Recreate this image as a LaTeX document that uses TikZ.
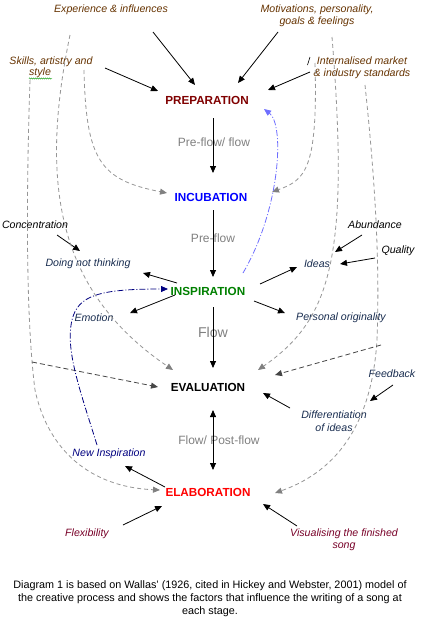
\documentclass[tikz,border=0pt]{standalone}
\usepackage{fontspec}
\setmainfont{Liberation Sans}
\usetikzlibrary{arrows.meta,decorations.pathmorphing}
\definecolor{maroonc}{RGB}{128,0,0}
\definecolor{brownc}{RGB}{102,51,0}
\definecolor{tealc}{RGB}{25,45,80}
\definecolor{navyc}{RGB}{0,0,128}
\definecolor{plumc}{RGB}{120,0,40}
\definecolor{greenc}{RGB}{0,128,0}
\definecolor{greyt}{RGB}{128,128,128}
\definecolor{dashg}{RGB}{150,150,150}
\definecolor{dashd}{RGB}{70,70,70}
\definecolor{lblue}{RGB}{110,110,255}
\tikzset{
  stage/.style={font=\bfseries\fontsize{11.7}{14}\selectfont, inner sep=1pt},
  lbl/.style={font=\itshape\fontsize{10.6}{12.5}\selectfont, inner sep=1pt, align=center},
  flowtxt/.style={font=\fontsize{12}{14}\selectfont, text=greyt, inner sep=1pt},
  arr/.style={line width=0.8pt, -{Triangle[length=7pt,width=6pt]}},
  darr/.style={line width=0.8pt, {Triangle[length=7pt,width=6pt]}-{Triangle[length=7pt,width=6pt]}},
  garr/.style={dashg, line width=0.8pt, dash pattern=on 4pt off 3pt, -{Triangle[length=7pt,width=6pt,fill=greyt,color=greyt]}},
  dkarr/.style={dashd, line width=0.8pt, dash pattern=on 5pt off 3pt, -{Triangle[length=7pt,width=6pt]}},
  navyarr/.style={navyc, line width=0.8pt, dash pattern=on 6pt off 2pt on 1pt off 2pt, -{Triangle[length=7pt,width=6pt]}},
  bluearr/.style={lblue, line width=0.8pt, dash pattern=on 6pt off 2pt on 1pt off 2pt, -{Triangle[length=7pt,width=6pt]}},
}
\begin{document}
\begin{tikzpicture}[x=1pt,y=-1pt]
\path[use as bounding box, fill=white] (0,0) rectangle (421,624);

% stages
\node[stage, text=maroonc] (prep) at (207,100) {PREPARATION};
\node[stage, text=blue] (incu) at (211,197) {INCUBATION};
\node[stage, text=greenc] (insp) at (208,291) {INSPIRATION};
\node[stage, text=black] (eval) at (208,387) {EVALUATION};
\node[stage, text=red] (elab) at (208,492) {ELABORATION};

% flow labels
\node[flowtxt] (f1) at (214,142) {Pre-flow/ flow};
\node[flowtxt] (f2) at (213,238) {Pre-flow};
\node[flowtxt, font=\fontsize{14.2}{16}\selectfont] (f3) at (213,332) {Flow};
\node[flowtxt] (f4) at (219,440) {Flow/ Post-flow};

% factor labels
\node[lbl, text=brownc] (exp) at (111,10) {Experience \& influences};
\node[lbl, text=brownc] (mot) at (317,16) {Motivations, personality,\\goals \& feelings};
\node[lbl, text=brownc] (skA) at (51,62) {Skills, artistry and};
\node[lbl, text=brownc] (skB) at (40,73) {style};
\node[lbl, text=brownc] (intm) at (362,68) {Internalised market\\\& industry standards};
\node[lbl, text=black] (conc) at (35,225) {Concentration};
\node[lbl, text=tealc] (doing) at (88,264) {Doing not thinking};
\node[lbl, text=tealc] (emo) at (94,318) {Emotion};
\node[lbl, text=black] (abund) at (375,225) {Abundance};
\node[lbl, text=black] (qual) at (398,251) {Quality};
\node[lbl, text=tealc] (ideas) at (317,264) {Ideas};
\node[lbl, text=tealc] (pers) at (341,318) {Personal originality};
\node[lbl, text=tealc] (feed) at (392,374) {Feedback};
\node[lbl, text=tealc] (diff) at (334,421) {Differentiation\\of ideas};
\node[lbl, text=navyc] (newi) at (109,454) {New Inspiration};
\node[lbl, text=plumc] (flex) at (87,534) {Flexibility};
\node[lbl, text=plumc] (vis) at (344,540) {Visualising the finished\\song};

% caption
\node[font=\fontsize{10.8}{13}\selectfont, align=center, inner sep=0pt] (cap) at (210,599)
 {Diagram 1 is based on Wallas' (1926, cited in Hickey and Webster, 2001) model of\\
  the creative process and shows the factors that influence the writing of a song at\\
  each stage.};

% small marks
\draw[line width=0.6pt] (307.5,65) -- (310,57);
\draw[green!60!black, line width=0.4pt, decorate, decoration={snake, amplitude=0.6pt, segment length=2pt}] (29,78.5) -- (52,78.5);

% coordinates for connector ends
\coordinate (a1s) at (153,32);  \coordinate (a1e) at (195,85);
\coordinate (a2s) at (105,68);  \coordinate (a2e) at (158,91);
\coordinate (a3s) at (278,32);  \coordinate (a3e) at (238,83);
\coordinate (a4s) at (310,72);  \coordinate (a4e) at (268,90);
\coordinate (v1s) at (213,118); \coordinate (v1e) at (213,173);
\coordinate (v2s) at (213,210); \coordinate (v2e) at (213,277);
\coordinate (v3s) at (213,307); \coordinate (v3e) at (213,368);
\coordinate (v4s) at (213,410); \coordinate (v4e) at (213,470);
\coordinate (b1s) at (57,235);  \coordinate (b1e) at (80,251);
\coordinate (b2s) at (177,283); \coordinate (b2e) at (143,273);
\coordinate (b3s) at (175,295); \coordinate (b3e) at (130,313);
\coordinate (b4s) at (362,235); \coordinate (b4e) at (335,252);
\coordinate (b5s) at (375,258); \coordinate (b5e) at (340,264);
\coordinate (b6s) at (260,284); \coordinate (b6e) at (297,267);
\coordinate (b7s) at (254,301); \coordinate (b7e) at (285,313);
\coordinate (c1s) at (393,385); \coordinate (c1e) at (370,401);
\coordinate (c2s) at (290,408); \coordinate (c2e) at (263,393);
\coordinate (d1s) at (165,487); \coordinate (d1e) at (125,466);
\coordinate (d2s) at (123,525); \coordinate (d2e) at (162,506);
\coordinate (d3s) at (297,526); \coordinate (d3e) at (263,504);

% solid arrows
\draw[arr] (a1s) -- (a1e);
\draw[arr] (a2s) -- (a2e);
\draw[arr] (a3s) -- (a3e);
\draw[arr] (a4s) -- (a4e);
\draw[arr] (v1s) -- (v1e);
\draw[arr] (v2s) -- (v2e);
\draw[arr] (v3s) -- (v3e);
\draw[darr] (v4s) -- (v4e);
\draw[arr] (b1s) -- (b1e);
\draw[arr] (b2s) -- (b2e);
\draw[arr] (b3s) -- (b3e);
\draw[arr] (b4s) -- (b4e);
\draw[arr] (b5s) -- (b5e);
\draw[arr] (b6s) -- (b6e);
\draw[arr] (b7s) -- (b7e);
\draw[arr] (c1s) -- (c1e);
\draw[arr] (c2s) -- (c2e);
\draw[arr] (d1s) -- (d1e);
\draw[arr] (d2s) -- (d2e);
\draw[arr] (d3s) -- (d3e);

% grey dashed influence lines
\coordinate (gA) at (70,35);   \coordinate (gAe) at (173,370);
\coordinate (gB) at (30,80);   \coordinate (gBm) at (35,390); \coordinate (gBe) at (160,490);
\coordinate (gC) at (84,70);   \coordinate (gCe) at (167,193);
\coordinate (gD) at (315,63);  \coordinate (gDe) at (272,192);
\coordinate (gE) at (332,37);  \coordinate (gEe) at (258,370);
\coordinate (gF) at (365,85);  \coordinate (gFm) at (377,340); \coordinate (gFe) at (275,493);
\draw[garr] (gA) .. controls (40,180) and (55,290) .. (gAe);
\draw[garr] (gB) .. controls (26,200) and (26,320) .. (gBm) .. controls (48,450) and (90,487) .. (gBe);
\draw[garr] (gC) .. controls (86,160) and (100,180) .. (gCe);
\draw[garr] (gD) .. controls (318,170) and (305,180) .. (gDe);
\draw[garr] (gE) .. controls (350,260) and (330,320) .. (gEe);
\draw[garr] (gF) .. controls (375,180) and (380,260) .. (gFm) .. controls (372,420) and (340,470) .. (gFe);

% dark dashed feedback lines
\coordinate (kG) at (32,362);  \coordinate (kGe) at (158,387);
\coordinate (kH) at (381,345); \coordinate (kHe) at (275,375);
\draw[dkarr] (kG) -- (kGe);
\draw[dkarr] (kH) -- (kHe);

% dash-dot inspiration loops
\coordinate (nI) at (97,445); \coordinate (nIm) at (72,320); \coordinate (nIe) at (168,289);
\draw[navyarr] (nI) .. controls (80,390) and (65,350) .. (nIm) .. controls (78,295) and (100,289) .. (nIe);
\coordinate (bJ) at (243,273); \coordinate (bJe) at (264,109);
\draw[bluearr] (bJ) .. controls (280,210) and (285,125) .. (bJe);
\end{tikzpicture}
\end{document}
